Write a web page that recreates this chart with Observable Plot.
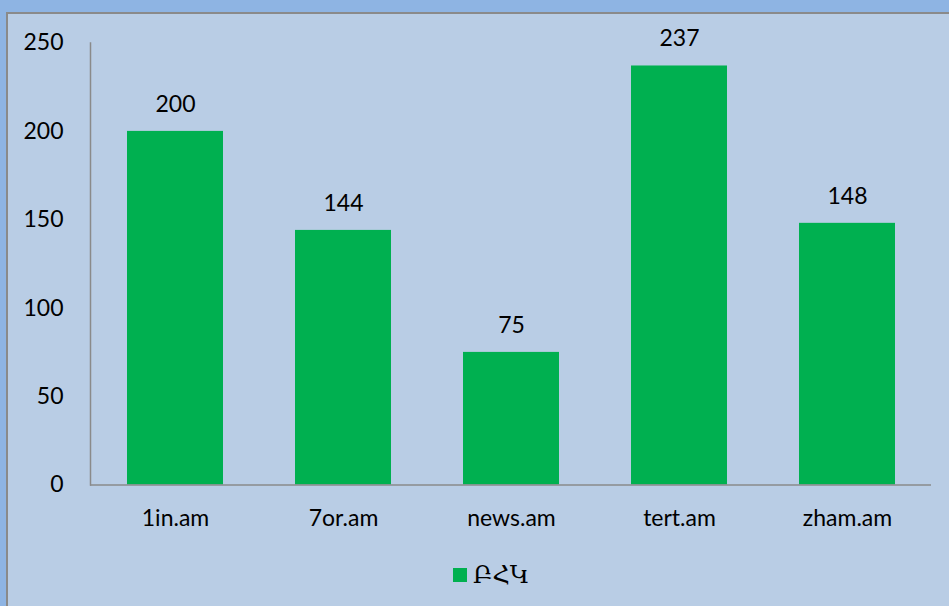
<!DOCTYPE html>
<html>
<head>
<meta charset="utf-8">
<script src="https://cdn.jsdelivr.net/npm/d3@7"></script>
<script src="https://cdn.jsdelivr.net/npm/@observablehq/plot@0.6"></script>
<style>
  html, body { margin: 0; padding: 0; }
  body { width: 949px; height: 606px; overflow: hidden; background: #8eb4e3; position: relative; font-family: Lato, "DejaVu Sans", sans-serif; }
  #panel { position: absolute; left: 6px; top: 12px; width: 960px; height: 620px; box-sizing: border-box; border: 2px solid #8a8a8a; background: #b9cde5; }
  #chart { position: absolute; left: 0; top: 0; }
  #legend { position: absolute; left: 453px; top: 561px; display: flex; align-items: center; gap: 6px; font-size: 24px; color: #000; }
  #legend .sw { width: 14px; height: 14px; background: #00b050; }
  #legend .lb { font-family: "DejaVu Serif", "DejaVu Sans", serif; }
</style>
</head>
<body>
<div id="panel"></div>
<div id="chart"></div>
<div id="legend"><span class="sw"></span><span class="lb" id="legendLabel"></span></div>
<script>
const categories = ["1in.am", "7or.am", "news.am", "tert.am", "zham.am"];
const values = [200, 144, 75, 237, 148];
const seriesName = "ԲՀԿ";
const yTicks = [0, 50, 100, 150, 200, 250];

const data = categories.map((c, i) => ({site: c, value: values[i]}));
document.getElementById("legendLabel").textContent = seriesName;

const chart = Plot.plot({
  width: 949,
  height: 545,
  marginLeft: 90,
  marginRight: 18,
  marginTop: 42.5,
  marginBottom: 60.5,
  style: {background: "transparent", fontFamily: "Lato, 'DejaVu Sans', sans-serif", fontSize: "23px", color: "#000"},
  x: {domain: categories, paddingInner: 0.43, paddingOuter: 0.215, axis: null},
  y: {domain: [0, 250], axis: null},
  marks: [
    Plot.barY(data, {x: "site", y: "value", fill: "#00b050"}),
    Plot.frame({anchor: "left", stroke: "#8a8a8a", strokeWidth: 1.5}),
    Plot.ruleY([0], {stroke: "#8a8a8a", strokeWidth: 1.5}),
    Plot.axisY({ticks: yTicks, tickSize: 0, tickPadding: 27, tickFormat: d => String(d), fontSize: 23, fill: "#000", label: null}),
    Plot.axisX({tickSize: 0, tickPadding: 25, fontSize: 23, fill: "#000", label: null}),
    Plot.text(data, {x: "site", y: "value", text: d => String(d.value), dy: -27, fontSize: 23, fill: "#000"})
  ]
});
document.getElementById("chart").appendChild(chart);
</script>
</body>
</html>
